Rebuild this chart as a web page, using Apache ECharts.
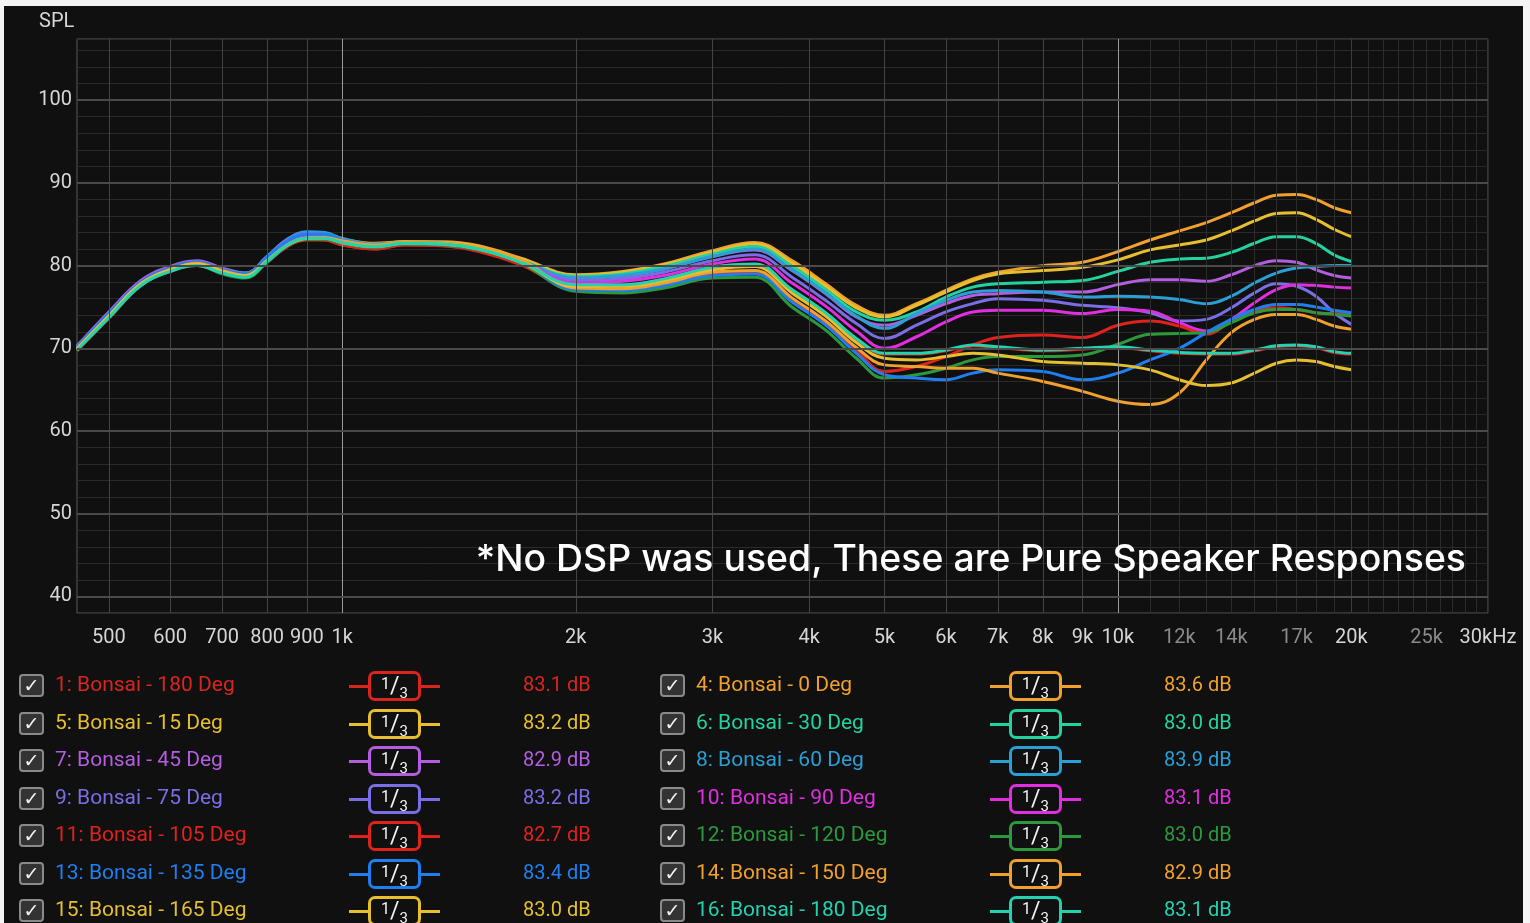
<!DOCTYPE html>
<html>
<head>
<meta charset="utf-8">
<title>Bonsai - horizontal polar response</title>
<script src="https://cdn.jsdelivr.net/npm/echarts@6.0.0/dist/echarts.min.js"></script>
<style>
    html, body { margin: 0; padding: 0; width: 1530px; height: 923px; overflow: hidden; background: #f4f4f4; }
    #panel { position: absolute; left: 4px; top: 6px; width: 1519px; height: 917px; background: #101010; overflow: hidden; }
    #chart { position: absolute; left: 0; top: 0; width: 1519px; height: 917px; }
    .check { position: absolute; width: 21px; height: 19px; border: 2px solid #8a8a8a; border-radius: 4px; background: #333333;
             color: #f4f4f4; font: bold 19px 'DejaVu Sans', sans-serif; line-height: 19px; text-align: center; }
    .name, .level { position: absolute; height: 30px; line-height: 30px; font: 21px Roboto, sans-serif; white-space: nowrap; }
    .level { font-size: 20px; }
    .wire { position: absolute; width: 91px; height: 3px; }
    .badge { position: absolute; width: 47px; height: 24px; border: 3px solid; border-radius: 7px; background: #101010;
             color: #f4f4f4; text-align: center; font: 18px Roboto, sans-serif; line-height: 24px; white-space: nowrap; }
    .badge .n { position: relative; top: -4px; font-size: 16px; }
    .badge .s { font-size: 23px; }
    .badge .d { position: relative; top: 5px; font-size: 15px; }
</style>
</head>
<body>
<div id="panel"><div id="chart"></div></div>
<script>
// frequency points (Hz) shared by every curve
var freqs = [455, 500, 550, 600, 650, 700, 750, 800, 850, 900, 950, 1000, 1100, 1200, 1350, 1500, 1700,
    2000, 2300, 2600, 3000, 3400, 3800, 4200, 4600, 5000, 5500, 6000, 6500, 7000, 8000, 9000, 10000,
    11000, 12000, 13000, 14000, 15000, 16000, 17000, 18000, 19000, 20000];

var spl180a = [69.7, 73.6, 77.6, 79.3, 80.0, 79.1, 78.6, 80.4, 82.3, 83.1, 83.1, 82.5, 82.0, 82.5, 82.4, 81.8, 80.2,
    77.6, 77.6, 78.3, 79.7, 80.1, 77.0, 74.2, 71.1, 69.3, 69.3, 69.7, 70.3, 70.1, 69.7, 69.9, 70.1,
    69.7, 69.4, 69.3, 69.3, 69.7, 70.2, 70.3, 70.1, 69.5, 69.3];
var spl0 = [70.1, 74.0, 77.8, 79.5, 80.4, 79.5, 79.0, 80.8, 82.7, 83.5, 83.6, 83.2, 82.7, 82.9, 82.9, 82.4, 80.9,
    78.9, 79.3, 80.2, 81.8, 82.8, 80.6, 77.8, 75.2, 74.0, 75.4, 77.0, 78.4, 79.2, 80.0, 80.4, 81.7,
    83.1, 84.2, 85.2, 86.4, 87.6, 88.5, 88.6, 88.0, 87.0, 86.4];
var spl15 = [70.0, 74.1, 77.9, 79.6, 80.4, 79.5, 78.9, 80.8, 82.8, 83.6, 83.6, 83.1, 82.6, 82.9, 82.8, 82.3, 80.8,
    78.8, 79.2, 80.1, 81.6, 82.6, 80.3, 77.5, 74.9, 73.8, 75.2, 76.8, 78.2, 79.0, 79.4, 79.8, 80.7,
    81.9, 82.5, 83.1, 84.2, 85.4, 86.3, 86.4, 85.6, 84.4, 83.5];
var spl30 = [69.9, 73.8, 77.7, 79.4, 80.1, 79.2, 78.7, 80.6, 82.6, 83.4, 83.5, 83.0, 82.4, 82.8, 82.7, 82.1, 80.6,
    78.7, 79.0, 79.9, 81.4, 82.3, 79.9, 77.1, 74.4, 73.4, 74.4, 76.2, 77.4, 77.8, 78.0, 78.2, 79.3,
    80.4, 80.8, 80.9, 81.6, 82.7, 83.5, 83.5, 82.7, 81.3, 80.5];
var spl45 = [70.3, 74.4, 78.2, 79.9, 80.6, 79.7, 79.1, 81.1, 83.2, 84.0, 83.9, 83.2, 82.5, 82.7, 82.6, 82.0, 80.5,
    78.5, 78.7, 79.6, 81.1, 81.9, 79.4, 76.6, 73.8, 72.8, 74.0, 75.4, 76.4, 76.6, 76.8, 76.8, 77.7,
    78.3, 78.3, 78.1, 78.9, 80.0, 80.6, 80.4, 79.5, 78.8, 78.5];
var spl60 = [70.1, 74.2, 78.0, 79.8, 80.5, 79.6, 79.1, 81.1, 83.2, 84.1, 84.0, 83.3, 82.6, 82.8, 82.7, 82.1, 80.6,
    78.5, 78.8, 79.6, 81.1, 82.0, 79.5, 76.7, 73.9, 72.4, 74.2, 75.8, 76.8, 77.0, 76.8, 76.2, 76.3,
    76.2, 75.9, 75.4, 76.3, 77.9, 79.1, 79.7, 79.9, 80.0, 80.0];
var spl75 = [70.2, 74.3, 78.1, 79.8, 80.5, 79.6, 79.0, 81.0, 83.1, 83.9, 83.8, 83.1, 82.4, 82.7, 82.6, 82.0, 80.5,
    78.2, 78.4, 79.2, 80.6, 81.3, 78.6, 75.8, 73.0, 71.2, 72.8, 74.4, 75.4, 76.0, 75.8, 75.2, 74.9,
    74.3, 73.3, 73.5, 74.9, 76.7, 77.8, 77.5, 76.3, 74.3, 72.9];
var spl90 = [70.0, 74.1, 78.0, 79.7, 80.4, 79.5, 78.9, 80.9, 82.9, 83.7, 83.6, 82.9, 82.3, 82.6, 82.5, 81.9, 80.4,
    77.9, 78.1, 78.8, 80.2, 80.8, 77.9, 75.1, 72.1, 70.0, 71.4, 73.2, 74.4, 74.6, 74.6, 74.2, 74.7,
    74.5, 73.1, 72.1, 73.5, 75.5, 77.1, 77.7, 77.6, 77.4, 77.3];
var spl105 = [69.7, 73.8, 77.7, 79.5, 80.2, 79.2, 78.7, 80.5, 82.4, 83.2, 83.1, 82.5, 82.0, 82.5, 82.4, 81.7, 80.1,
    77.2, 77.1, 77.7, 79.0, 79.2, 75.8, 73.0, 69.8, 67.2, 67.8, 69.0, 70.4, 71.3, 71.6, 71.3, 72.8,
    73.3, 72.7, 71.7, 73.3, 74.5, 74.9, 74.7, 74.3, 74.2, 74.1];
var spl120 = [69.8, 73.7, 77.6, 79.3, 80.0, 79.0, 78.5, 80.4, 82.4, 83.2, 83.2, 82.7, 82.2, 82.6, 82.5, 81.9, 80.3,
    76.9, 76.7, 77.3, 78.5, 78.6, 75.0, 72.2, 68.8, 66.4, 66.8, 67.6, 68.6, 69.0, 69.0, 69.2, 70.5,
    71.7, 71.8, 71.9, 73.1, 74.3, 74.7, 74.7, 74.3, 74.1, 73.9];
var spl135 = [70.2, 74.2, 78.0, 79.7, 80.4, 79.5, 79.0, 81.0, 83.0, 83.8, 83.8, 83.1, 82.5, 82.7, 82.6, 82.0, 80.5,
    77.1, 77.0, 77.6, 78.8, 79.0, 75.6, 72.8, 69.4, 66.8, 66.4, 66.2, 67.0, 67.4, 67.2, 66.2, 67.0,
    68.6, 70.0, 71.9, 73.5, 74.7, 75.3, 75.3, 75.0, 74.6, 74.3];
var spl150 = [70.0, 73.9, 77.8, 79.5, 80.3, 79.4, 78.8, 80.6, 82.5, 83.3, 83.4, 83.0, 82.5, 82.8, 82.7, 82.2, 80.7,
    77.3, 77.2, 77.9, 79.2, 79.4, 76.1, 73.3, 70.1, 68.0, 67.8, 67.6, 67.6, 67.0, 66.0, 64.8, 63.6,
    63.2, 64.6, 68.6, 71.9, 73.5, 74.1, 74.1, 73.5, 72.7, 72.3];
var spl165 = [69.9, 73.9, 77.8, 79.5, 80.2, 79.3, 78.8, 80.6, 82.5, 83.3, 83.3, 82.8, 82.3, 82.7, 82.6, 82.0, 80.4,
    77.5, 77.5, 78.2, 79.5, 79.9, 76.7, 73.9, 70.7, 68.8, 68.6, 69.0, 69.4, 69.2, 68.4, 68.2, 68.0,
    67.4, 66.2, 65.5, 65.8, 67.0, 68.2, 68.6, 68.4, 67.8, 67.4];
var spl180b = [69.8, 73.7, 77.6, 79.3, 80.0, 79.1, 78.6, 80.5, 82.5, 83.3, 83.3, 82.8, 82.3, 82.7, 82.6, 82.0, 80.4,
    77.7, 77.7, 78.4, 79.8, 80.2, 77.1, 74.3, 71.2, 69.4, 69.4, 69.8, 70.4, 70.2, 69.8, 70.0, 70.2,
    69.8, 69.5, 69.4, 69.4, 69.8, 70.3, 70.4, 70.2, 69.6, 69.4];

var seriesNames = ['1: Bonsai - 180 Deg', '4: Bonsai - 0 Deg', '5: Bonsai - 15 Deg', '6: Bonsai - 30 Deg',
    '7: Bonsai - 45 Deg', '8: Bonsai - 60 Deg', '9: Bonsai - 75 Deg', '10: Bonsai - 90 Deg',
    '11: Bonsai - 105 Deg', '12: Bonsai - 120 Deg', '13: Bonsai - 135 Deg', '14: Bonsai - 150 Deg',
    '15: Bonsai - 165 Deg', '16: Bonsai - 180 Deg'];
var seriesValues = [spl180a, spl0, spl15, spl30, spl45, spl60, spl75, spl90, spl105, spl120, spl135, spl150, spl165, spl180b];
var seriesLevels = ['83.1 dB', '83.6 dB', '83.2 dB', '83.0 dB', '82.9 dB', '83.9 dB', '83.2 dB', '83.1 dB',
    '82.7 dB', '83.0 dB', '83.4 dB', '82.9 dB', '83.0 dB', '83.1 dB'];
var seriesColors = ['#d8261e', '#f0a02c', '#e6bf2e', '#22d3a0', '#b35ee0', '#2a9fd6', '#7a6ee6', '#e02ee0',
    '#e0221c', '#2c9a3c', '#1f7ff0', '#f0a02c', '#e6bf2e', '#22d3b0'];

// axis ticks
var xLabelFreqs = [500, 600, 700, 800, 900, 1000, 2000, 3000, 4000, 5000, 6000, 7000, 8000, 9000, 10000,
    12000, 14000, 17000, 20000, 25000, 30000];
var xLabelTexts = ['500', '600', '700', '800', '900', '1k', '2k', '3k', '4k', '5k', '6k', '7k', '8k', '9k', '10k',
    '12k', '14k', '17k', '20k', '25k', '30kHz'];
var xDimLabels = ['12k', '14k', '17k', '25k'];
var yMajorTicks = [40, 50, 60, 70, 80, 90, 100];

var myChart = echarts.init(document.getElementById('chart'));

// vertical grid lines (500..900, 1k..30k) with their labels underneath
var gridLines = [];
var gridFreqs = [500, 600, 700, 800, 900];
for (var k = 1; k <= 30; k++) {
    gridFreqs.push(k * 1000);
}
gridFreqs.forEach(function (f) {
    var idx = xLabelFreqs.indexOf(f);
    var text = idx >= 0 ? xLabelTexts[idx] : '';
    var color = '#444444';
    if (f === 1000 || f === 10000) color = '#9a9a9a';
    else if (f === 20000) color = '#3c3c3c';
    else if (f > 10000) color = '#2c2c2c';
    gridLines.push({
        xAxis: f,
        lineStyle: { color: color, width: 1, type: 'solid' },
        label: {
            show: text !== '',
            formatter: text,
            position: 'start',
            distance: 15,
            color: xDimLabels.indexOf(text) >= 0 ? '#8a8a8a' : '#d6d6d6',
            fontSize: 20,
            fontFamily: 'Roboto'
        }
    });
});
yMajorTicks.forEach(function (v) {
    gridLines.push({
        yAxis: v,
        lineStyle: { color: '#4a4a4a', width: 2, type: 'solid' },
        label: { show: false }
    });
});

var series = [{
    name: 'grid',
    type: 'line',
    data: [],
    silent: true,
    clip: false,
    z: 1,
    markLine: {
        silent: true,
        animation: false,
        symbol: ['none', 'none'],
        data: gridLines
    }
}];
seriesNames.forEach(function (name, i) {
    series.push({
        name: name,
        type: 'line',
        smooth: 0.4,
        symbol: 'none',
        z: 3,
        lineStyle: { width: 3, color: seriesColors[i] },
        data: freqs.map(function (f, j) { return [f, seriesValues[i][j]]; })
    });
});

var option = {
    backgroundColor: '#101010',
    animation: false,
    grid: {
        left: 73,
        top: 33,
        right: 35,
        bottom: 310,
        show: true,
        borderColor: '#5a5a5a',
        borderWidth: 1,
        backgroundColor: 'transparent'
    },
    xAxis: {
        type: 'log',
        logBase: 10,
        min: 455,
        max: 30000,
        axisLine: { show: false },
        axisTick: { show: false },
        axisLabel: { show: false },
        splitLine: { show: false },
        minorSplitLine: { show: false }
    },
    yAxis: {
        type: 'value',
        min: 38,
        max: 107.4,
        interval: 2,
        axisLine: { show: false },
        axisTick: { show: false },
        axisLabel: {
            color: '#d6d6d6',
            fontSize: 20,
            fontFamily: 'Roboto',
            margin: 5,
            padding: [6, 0, 0, 0],
            formatter: function (v) {
                return yMajorTicks.indexOf(v) >= 0 ? String(v) : '';
            }
        },
        splitLine: { lineStyle: { color: '#2a2a2a', width: 1 } }
    },
    graphic: [
        {
            type: 'text',
            x: 35,
            y: 16,
            style: { text: 'SPL', fill: '#d6d6d6', font: '20px Roboto', verticalAlign: 'middle' }
        },
        {
            type: 'text',
            x: 1462,
            y: 554,
            z: 10,
            style: {
                text: '*No DSP was used, These are Pure Speaker Responses',
                fill: '#ffffff',
                font: '500 37.4px Inter',
                align: 'right',
                verticalAlign: 'middle'
            }
        }
    ],
    series: series
};

myChart.setOption(option);

// measurement table under the plot
var panel = document.getElementById('panel');
function addEl(cls, left, top, html, css) {
    var el = document.createElement('div');
    el.className = cls;
    el.style.left = left + 'px';
    el.style.top = top + 'px';
    if (html) el.innerHTML = html;
    for (var key in css) el.style[key] = css[key];
    panel.appendChild(el);
    return el;
}
seriesNames.forEach(function (name, i) {
    var col = i % 2;
    var row = Math.floor(i / 2);
    var ox = col * 641;
    var cy = Math.round(680 + row * 37.5);
    var color = seriesColors[i];
    addEl('check', ox + 15, cy - 12, '&#10003;');
    addEl('name', ox + 51, cy - 14, name, { color: color });
    addEl('wire', ox + 345, cy - 1, '', { background: color });
    addEl('badge', ox + 364, cy - 15,
        '<span class="n">1</span><span class="s">/</span><span class="d">3</span>', { borderColor: color });
    addEl('level', ox + 519, cy - 14, seriesLevels[i], { color: color });
});
</script>
</body>
</html>
